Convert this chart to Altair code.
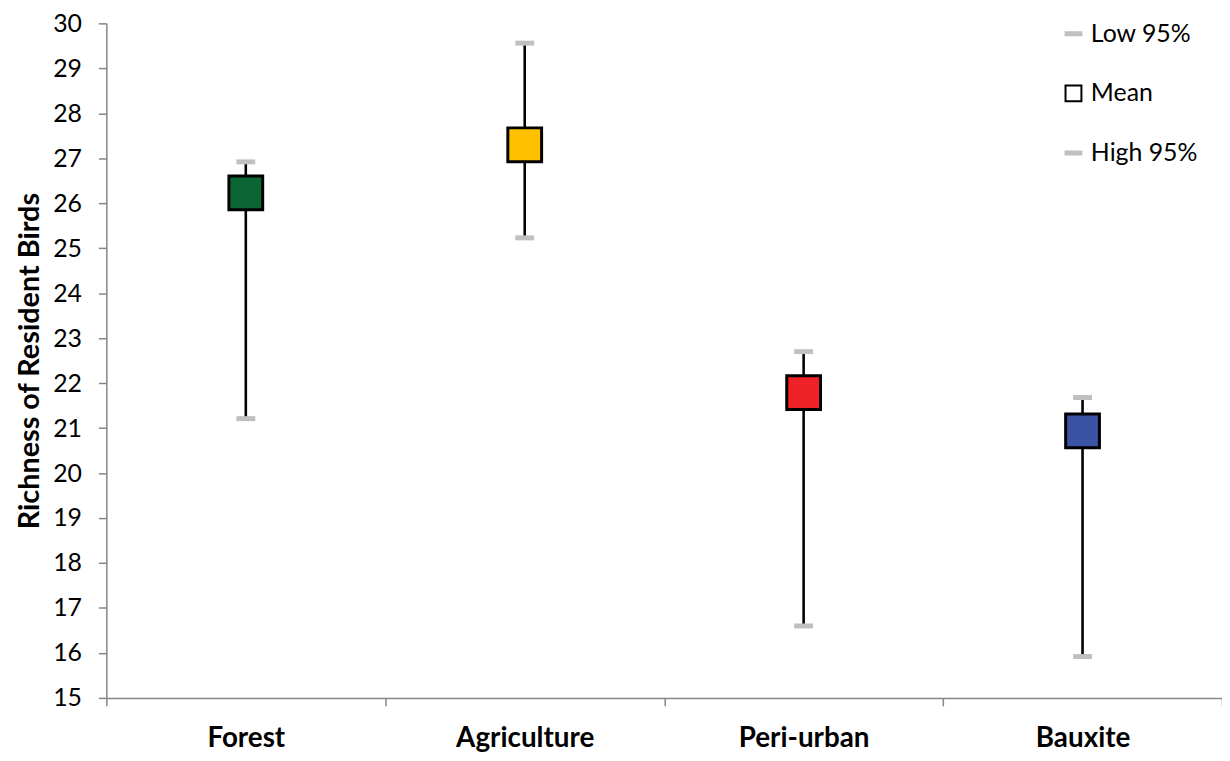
import altair as alt
import pandas as pd

categories = ["Forest", "Agriculture", "Peri-urban", "Bauxite"]
low95 = [21.21, 25.23, 16.60, 15.92]
mean = [26.23, 27.30, 21.79, 20.94]
high95 = [26.92, 29.56, 22.70, 21.68]
fills = ["#0b6633", "#ffc000", "#ee2226", "#3a53a4"]

legend_names = ["Low 95%", "Mean", "High 95%"]
legend_fill = ["#c0c0c0", "#ffffff", "#c0c0c0"]
legend_stroke = ["#c0c0c0", "#000000", "#c0c0c0"]
legend_shape = ["M-1,-0.2H1V0.2H-1Z", "square", "M-1,-0.2H1V0.2H-1Z"]

df = pd.DataFrame({"cat": categories, "low": low95, "mean": mean, "high": high95, "fill": fills})
leg_df = pd.DataFrame({"series": legend_names})

FONT = "Lato"

x_enc = alt.X(
    "cat:N",
    sort=categories,
    scale=alt.Scale(paddingInner=0, paddingOuter=0),
    axis=alt.Axis(
        title=None, labelAngle=0, labelFont=FONT, labelFontWeight="bold", labelFontSize=28,
        labelColor="#000000", labelPadding=19, tickBand="extent", tickSize=8,
        domainColor="#868686", tickColor="#868686", domainWidth=1.5, tickWidth=1.5,
    ),
)
y_scale = alt.Scale(domain=[15, 30], nice=False, zero=False)
y_axis = alt.Axis(
    title="Richness of Resident Birds", titleFont=FONT, titleFontWeight="bold", titleFontSize=29,
    titleColor="#000000", titlePadding=8,
    values=list(range(15, 31)), labelFont=FONT, labelFontSize=25, labelColor="#000000",
    labelPadding=17, tickSize=8, grid=False,
    domainColor="#868686", tickColor="#868686", domainWidth=1.5, tickWidth=1.5,
)

base = alt.Chart(df)

rules = base.mark_rule(color="#000000", strokeWidth=2.6).encode(
    x=x_enc,
    y=alt.Y("low:Q", scale=y_scale, axis=y_axis),
    y2="high:Q",
)

caps_low = base.mark_tick(orient="horizontal", color="#c0c0c0", thickness=5, size=19, opacity=1).encode(
    x=x_enc, y=alt.Y("low:Q", scale=y_scale)
)
caps_high = base.mark_tick(orient="horizontal", color="#c0c0c0", thickness=5, size=19, opacity=1).encode(
    x=x_enc, y=alt.Y("high:Q", scale=y_scale)
)

squares = base.mark_square(size=1156, stroke="#000000", strokeWidth=3, opacity=1).encode(
    x=x_enc,
    y=alt.Y("mean:Q", scale=y_scale),
    color=alt.Color("fill:N", scale=None, legend=None),
)

leg = alt.Legend(title=None)
legend_layer = alt.Chart(leg_df).transform_filter("datum.series == 'none'").mark_point(
    filled=True, strokeWidth=2, size=256
).encode(
    shape=alt.Shape("series:N", scale=alt.Scale(domain=legend_names, range=legend_shape), legend=leg),
    fill=alt.Fill("series:N", scale=alt.Scale(domain=legend_names, range=legend_fill), legend=leg),
    stroke=alt.Stroke("series:N", scale=alt.Scale(domain=legend_names, range=legend_stroke), legend=leg),
)

chart = alt.layer(rules, caps_low, caps_high, squares, legend_layer).properties(
    width=1123, height=679,
    autosize=alt.AutoSizeParams(type="none"),
    padding={"left": 99, "top": 13, "right": 0, "bottom": 53},
).configure_view(stroke=None).configure_legend(
    orient="none", legendX=961, legendY=-2, padding=0,
    symbolSize=256, symbolStrokeWidth=2, symbolType="square",
    labelFont=FONT, labelFontSize=25, labelColor="#000000", labelOffset=5,
    rowPadding=34, symbolOpacity=1,
)

chart.save("out.html", embed_options={"renderer": "svg", "actions": False})
